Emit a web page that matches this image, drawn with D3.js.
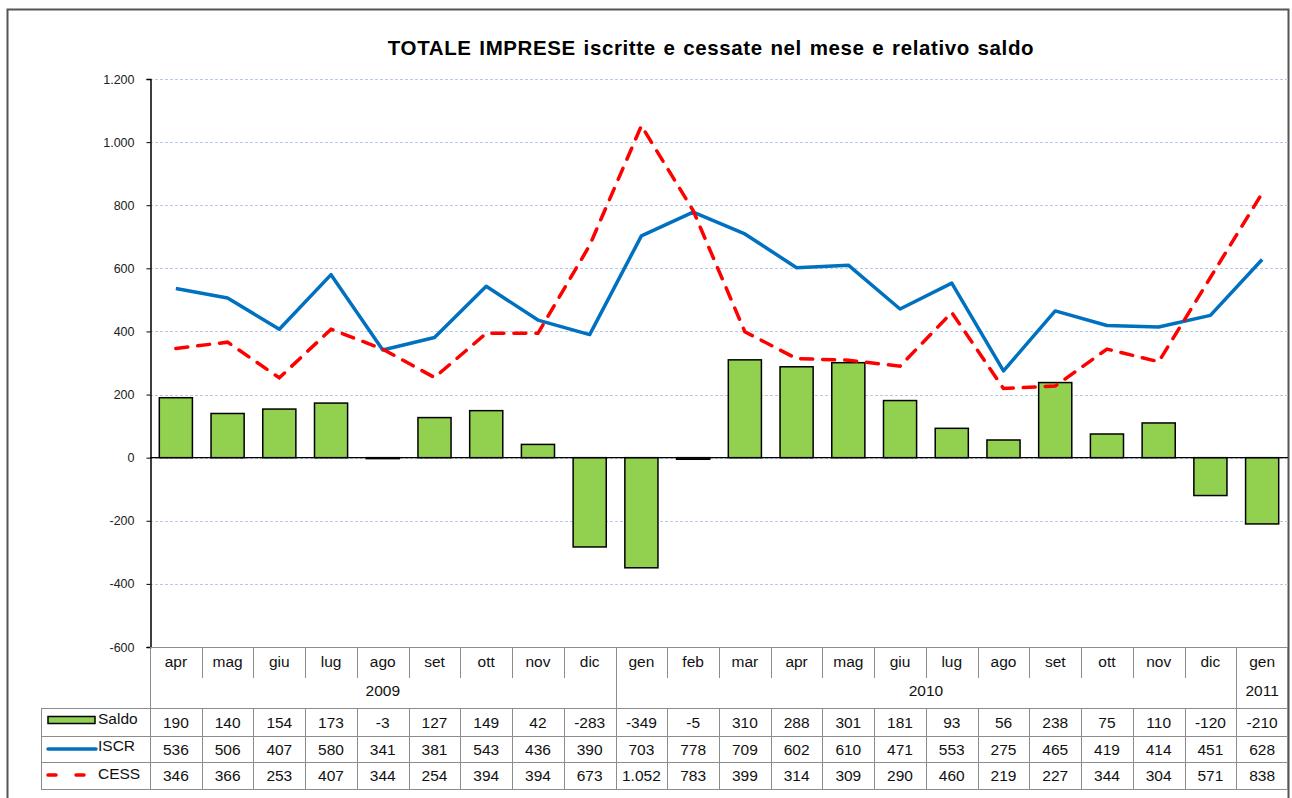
<!DOCTYPE html>
<html>
<head>
<meta charset="utf-8">
<script src="https://cdn.jsdelivr.net/npm/d3@7"></script>
<style>
  body { margin: 0; background: #fff; }
  svg text { font-family: "Liberation Sans", Arial, sans-serif; }
</style>
</head>
<body>
<svg id="chart" width="1292" height="798"></svg>
<script>
// data
const months = ["apr","mag","giu","lug","ago","set","ott","nov","dic","gen","feb","mar",
                "apr","mag","giu","lug","ago","set","ott","nov","dic","gen"]
const years = [{label: "2009", n: 9}, {label: "2010", n: 12}, {label: "2011", n: 1}]
const saldo = [190,140,154,173,-3,127,149,42,-283,-349,-5,310,288,301,181,93,56,238,75,110,-120,-210]
const iscr  = [536,506,407,580,341,381,543,436,390,703,778,709,602,610,471,553,275,465,419,414,451,628]
const cess  = [346,366,253,407,344,254,394,394,673,1052,783,399,314,309,290,460,219,227,344,304,571,838]
const yTicks = [-600,-400,-200,0,200,400,600,800,1000,1200]

const green = "#92D050", blue = "#0070C0", red = "#FF0000", gridCol = "#b7c9e6", tableCol = "#8c8c8c"

const it = d3.formatLocale({decimal: ",", thousands: ".", grouping: [3], currency: ["", "€"], minus: "-"})
const fmt = it.format(",d")

const svg = d3.select("#chart")

const plotLeft = 150, plotRight = 1288, plotTop = 79, plotBottom = 647
const legendLeft = 41
const rowY = [647, 678, 708, 736, 762, 789]   // table row edges

const x = d3.scaleBand().domain(d3.range(months.length)).range([plotLeft, plotRight])
const cx = i => x(i) + x.bandwidth() / 2
const y = d3.scaleLinear().domain([-600, 1200]).range([plotBottom, plotTop])

// outer frame
svg.append("rect")
  .attr("x", 7.5).attr("y", 9.5).attr("width", 1281).attr("height", 800)
  .attr("fill", "none").attr("stroke", "#555").attr("stroke-width", 2)

// title
svg.append("text")
  .attr("x", 711).attr("y", 55)
  .attr("text-anchor", "middle")
  .attr("font-size", 20.5).attr("font-weight", "bold")
  .attr("letter-spacing", 0.6).attr("word-spacing", 1.5)
  .text("TOTALE IMPRESE iscritte e cessate nel mese e relativo saldo")

// gridlines
svg.append("g").selectAll("line")
  .data(yTicks.filter(t => t > -600))
  .join("line")
  .attr("x1", plotLeft).attr("x2", plotRight)
  .attr("y1", d => Math.round(y(d)) + 0.5).attr("y2", d => Math.round(y(d)) + 0.5)
  .attr("stroke", gridCol).attr("stroke-width", 1).attr("stroke-dasharray", "3,2")

// y axis
const yAxis = svg.append("g")
  .attr("transform", `translate(${plotLeft + 0.5},0)`)
  .call(d3.axisLeft(y).tickValues(yTicks).tickFormat(fmt).tickSize(4).tickPadding(12))
yAxis.select(".domain").attr("stroke", "#000").attr("stroke-width", 1.5)
yAxis.selectAll(".tick line").attr("stroke", "#000")
yAxis.selectAll(".tick text")
  .attr("font-size", 12.5).attr("fill", "#222")
  .attr("font-family", "Liberation Sans, Arial, sans-serif")

// bars
const barW = x.bandwidth() * 0.64
svg.append("g").selectAll("rect")
  .data(saldo)
  .join("rect")
  .attr("x", (d, i) => cx(i) - barW / 2)
  .attr("y", d => y(Math.max(0, d)))
  .attr("width", barW)
  .attr("height", d => Math.abs(y(d) - y(0)))
  .attr("fill", green).attr("stroke", "#000").attr("stroke-width", 1.5)

// zero line
svg.append("line")
  .attr("x1", plotLeft).attr("x2", plotRight)
  .attr("y1", y(0)).attr("y2", y(0))
  .attr("stroke", "#000").attr("stroke-width", 1.2)

// lines
const line = d3.line().x((d, i) => cx(i)).y(d => y(d))
svg.append("path").datum(iscr)
  .attr("d", line).attr("fill", "none")
  .attr("stroke", blue).attr("stroke-width", 3.5).attr("stroke-linejoin", "round")
svg.append("path").datum(cess)
  .attr("d", line).attr("fill", "none")
  .attr("stroke", red).attr("stroke-width", 3.5)
  .attr("stroke-dasharray", "12,10").attr("stroke-linecap", "round")

//////////////////////////////////////////////////////////////
//                      data table
//////////////////////////////////////////////////////////////
const table = svg.append("g").attr("stroke", tableCol).attr("stroke-width", 1)

// horizontal rules
table.append("line").attr("x1", plotLeft).attr("x2", plotRight)
  .attr("y1", plotBottom + 0.5).attr("y2", plotBottom + 0.5)
rowY.slice(2).forEach(yy => {
  table.append("line").attr("x1", legendLeft).attr("x2", plotRight)
    .attr("y1", yy + 0.5).attr("y2", yy + 0.5)
})

// month tick separators
d3.range(1, months.length).forEach(i => {
  const xx = Math.round(x(i)) + 0.5
  table.append("line").attr("x1", xx).attr("x2", xx)
    .attr("y1", rowY[0]).attr("y2", rowY[1])
})
// year group separators
let acc = 0
const yearStarts = years.map(yr => { const s = acc; acc += yr.n; return s })
yearStarts.forEach(s => {
  const xx = Math.round(x(s)) + 0.5
  table.append("line").attr("x1", xx).attr("x2", xx).attr("y1", rowY[0]).attr("y2", rowY[2])
})
table.append("line").attr("x1", plotRight - 0.5).attr("x2", plotRight - 0.5).attr("y1", rowY[0]).attr("y2", rowY[5])

// data row separators
d3.range(0, months.length).forEach(i => {
  const xx = Math.round(x(i)) + 0.5
  table.append("line").attr("x1", xx).attr("x2", xx).attr("y1", rowY[2]).attr("y2", rowY[5])
})
table.append("line").attr("x1", legendLeft + 0.5).attr("x2", legendLeft + 0.5)
  .attr("y1", rowY[2]).attr("y2", rowY[5])

const txt = svg.append("g").attr("font-size", 15.5).attr("fill", "#111").attr("text-anchor", "middle")

txt.selectAll(".month").data(months).join("text")
  .attr("class", "month")
  .attr("x", (d, i) => cx(i)).attr("y", 667)
  .text(d => d)

txt.selectAll(".year").data(years).join("text")
  .attr("class", "year")
  .attr("x", (d, i) => (x(yearStarts[i]) + x(yearStarts[i] + d.n - 1) + x.bandwidth()) / 2)
  .attr("y", 696)
  .text(d => d.label)

const rows = [saldo, iscr, cess]
rows.forEach((vals, r) => {
  txt.append("g").selectAll("text").data(vals).join("text")
    .attr("x", (d, i) => cx(i))
    .attr("y", (rowY[2 + r] + rowY[3 + r]) / 2 + 5.5)
    .text(d => fmt(d))
})

// legend keys in the table
const leg = svg.append("g")
leg.append("rect").attr("x", 48).attr("y", 716.5).attr("width", 47).attr("height", 7)
  .attr("fill", green).attr("stroke", "#000").attr("stroke-width", 1.5)
leg.append("line").attr("x1", 48).attr("x2", 96).attr("y1", 749).attr("y2", 749)
  .attr("stroke", blue).attr("stroke-width", 3.5).attr("stroke-linecap", "round")
leg.append("line").attr("x1", 48).attr("x2", 96).attr("y1", 775).attr("y2", 775)
  .attr("stroke", red).attr("stroke-width", 3.5).attr("stroke-linecap", "round")
  .attr("stroke-dasharray", "8,20")
const legText = [["Saldo", 723.5], ["ISCR", 751], ["CESS", 779]]
leg.selectAll("text").data(legText).join("text")
  .attr("x", 98).attr("y", d => d[1])
  .attr("font-size", 15.5).attr("fill", "#111")
  .text(d => d[0])
</script>
</body>
</html>
